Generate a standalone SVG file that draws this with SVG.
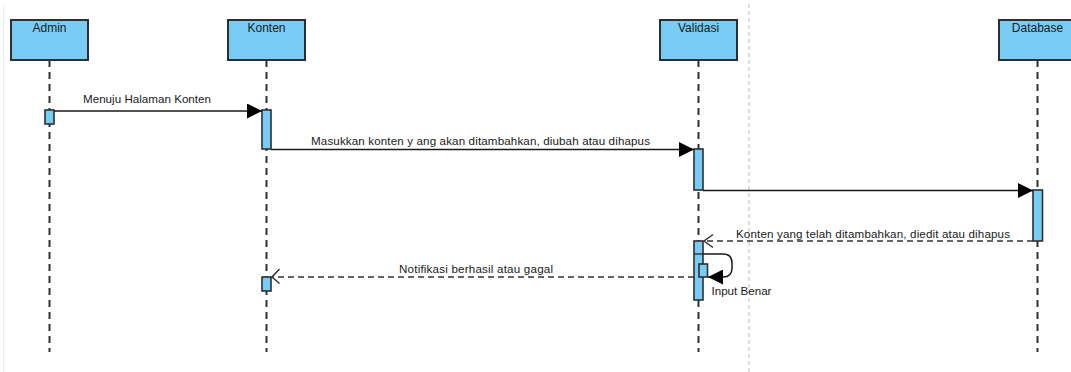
<svg xmlns="http://www.w3.org/2000/svg" width="1071" height="372" viewBox="0 0 1071 372">
  <style>
    .head { fill: #79CCF4; stroke: #2f2f2f; stroke-width: 2; }
    .act { fill: #79CCF4; stroke: #2f2f2f; stroke-width: 1.6; }
    .life { stroke: #333; stroke-width: 2; stroke-dasharray: 7 5; fill: none; }
    .msg { stroke: #1a1a1a; stroke-width: 1.5; fill: none; }
    .ret { stroke: #333; stroke-width: 1.5; fill: none; stroke-dasharray: 6 4; }
    .open { stroke: #333; stroke-width: 1.5; fill: none; }
    text { font-family: "Liberation Sans", Arial, sans-serif; font-size: 11.6px; fill: #1a1a1a; }
    .title { text-anchor: middle; font-size: 12px; }
  </style>
  <defs>
    <marker id="solid" viewBox="0 0 15 15" refX="15" refY="7.5" markerWidth="15" markerHeight="15" markerUnits="userSpaceOnUse" orient="auto">
      <path d="M0,0 L15,7.5 L0,15 Z" fill="#000"/>
    </marker>
  </defs>
  <rect width="1071" height="372" fill="#fff"/>
  <!-- frame edge and separator -->
  <line x1="3.5" y1="6" x2="3.5" y2="372" stroke="#eeeeee" stroke-width="1"/>
  <line x1="749" y1="4" x2="749" y2="372" stroke="#c8c8c8" stroke-width="1.2" stroke-dasharray="4 3"/>

  <g id="admin">
    <line class="life" x1="49.5" y1="60" x2="49.5" y2="352"/>
    <rect class="head" x="11" y="20" width="77" height="40"/>
    <text class="title" x="49.5" y="32">Admin</text>
    <rect class="act" x="45" y="110" width="9" height="14"/>
  </g>

  <g id="konten">
    <line class="life" x1="266.5" y1="60" x2="266.5" y2="352"/>
    <rect class="head" x="228" y="20" width="77" height="40"/>
    <text class="title" x="266.5" y="32">Konten</text>
    <rect class="act" x="262" y="110" width="9" height="39"/>
    <rect class="act" x="262" y="277" width="9" height="14"/>
  </g>

  <g id="validasi">
    <line class="life" x1="698.5" y1="60" x2="698.5" y2="352"/>
    <rect class="head" x="660" y="20" width="77" height="40"/>
    <text class="title" x="698.5" y="32">Validasi</text>
    <rect class="act" x="694" y="149" width="9" height="41"/>
    <rect class="act" x="694" y="241" width="9" height="59"/>
    <line x1="694" y1="254" x2="703" y2="254" stroke="#2f2f2f" stroke-width="1.4"/>
    <rect class="act" x="699" y="264" width="8.5" height="13"/>
  </g>

  <g id="database">
    <line class="life" x1="1037.5" y1="60" x2="1037.5" y2="352"/>
    <rect class="head" x="999" y="20" width="77" height="40"/>
    <text class="title" x="1037.5" y="32">Database</text>
    <rect class="act" x="1033" y="190" width="9.5" height="51"/>
  </g>

  <g id="connectors">
    <!-- Admin to Konten -->
    <line class="msg" x1="54" y1="111" x2="262" y2="111" marker-end="url(#solid)"/>
    <text x="83" y="103" textLength="128" lengthAdjust="spacing">Menuju Halaman Konten</text>

    <!-- Konten to Validasi -->
    <line class="msg" x1="271" y1="149.5" x2="694" y2="149.5" marker-end="url(#solid)"/>
    <text x="311" y="145" textLength="339" lengthAdjust="spacing">Masukkan konten y ang akan ditambahkan, diubah atau dihapus</text>

    <!-- Validasi to Database -->
    <line class="msg" x1="703" y1="190.5" x2="1033" y2="190.5" marker-end="url(#solid)"/>

    <!-- Database reply to Validasi -->
    <line class="ret" x1="1033" y1="241" x2="704" y2="241"/>
    <polyline class="open" points="713,234.5 704,241 713,247.5"/>
    <text x="736" y="238" textLength="274" lengthAdjust="spacing">Konten yang telah ditambahkan, diedit atau dihapus</text>

    <!-- self message on Validasi -->
    <path class="msg" d="M703,254 H723 Q732,254 732,263 V268 Q732,277 723,277 H708" marker-end="url(#solid)"/>
    <text x="711.5" y="295">Input Benar</text>

    <!-- Validasi reply to Konten -->
    <line class="ret" x1="694" y1="277" x2="272" y2="277"/>
    <polyline class="open" points="279.5,269 272,277 279.5,283.5"/>
    <text x="399" y="273" textLength="154" lengthAdjust="spacing">Notifikasi berhasil atau gagal</text>
  </g>
</svg>
